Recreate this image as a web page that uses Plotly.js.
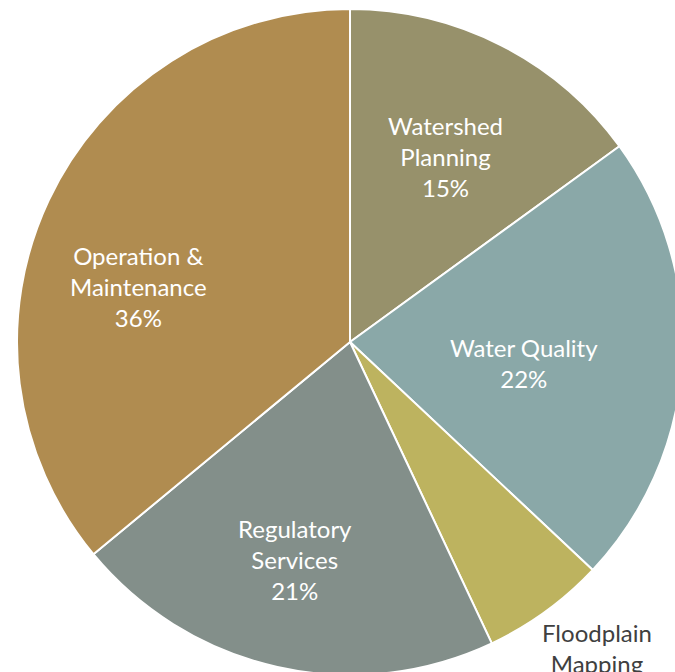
<!DOCTYPE html>
<html>
<head>
<meta charset="utf-8">
<script src="https://cdn.plot.ly/plotly-3.0.1.min.js"></script>
<style>
  html, body { margin: 0; padding: 0; overflow: hidden; background: #fff; }
</style>
</head>
<body>
<div id="pie"></div>
<script>
var labels = ['Watershed<br>Planning', 'Water Quality', 'Floodplain<br>Mapping', 'Regulatory<br>Services', 'Operation &<br>Maintenance'];
var values = [15, 22, 6, 21, 36];
var colors = ['#97916b', '#8aa8a8', '#bdb35f', '#838f8a', '#b08c50'];

// where each slice label sits (paper coords), and whether it shows the percent
var labelSpots = [
    {x: 0.644, y: 0.778, pct: true,  color: '#ffffff'},
    {x: 0.761, y: 0.469, pct: true,  color: '#ffffff'},
    {x: 0.871, y: 0.040, pct: false, color: '#404040'},
    {x: 0.417, y: 0.173, pct: true,  color: '#ffffff'},
    {x: 0.182, y: 0.583, pct: true,  color: '#ffffff'}
];

var total = values.reduce(function(a, b) { return a + b; }, 0);

var annotations = labels.map(function(lab, i) {
    var s = labelSpots[i];
    var txt = lab;
    if (s.pct) {
        txt += '<br>' + Math.round(values[i] / total * 100) + '%';
    }
    return {
        xref: 'paper', yref: 'paper',
        x: s.x, y: s.y,
        xanchor: 'center', yanchor: 'middle',
        text: txt,
        showarrow: false,
        font: {family: 'Lato, sans-serif', size: 24, color: s.color}
    };
});

var trace = {
    type: 'pie',
    labels: labels,
    values: values,
    sort: false,
    direction: 'clockwise',
    rotation: 0,
    marker: {colors: colors, line: {color: '#ffffff', width: 2}},
    textinfo: 'none',
    hoverinfo: 'none',
    showlegend: false
};

var layout = {
    width: 700,
    height: 700,
    margin: {l: 17, r: 17, t: 9, b: 25},
    paper_bgcolor: '#ffffff',
    showlegend: false,
    annotations: annotations
};

Plotly.newPlot('pie', [trace], layout, {staticPlot: true});
</script>
</body>
</html>
